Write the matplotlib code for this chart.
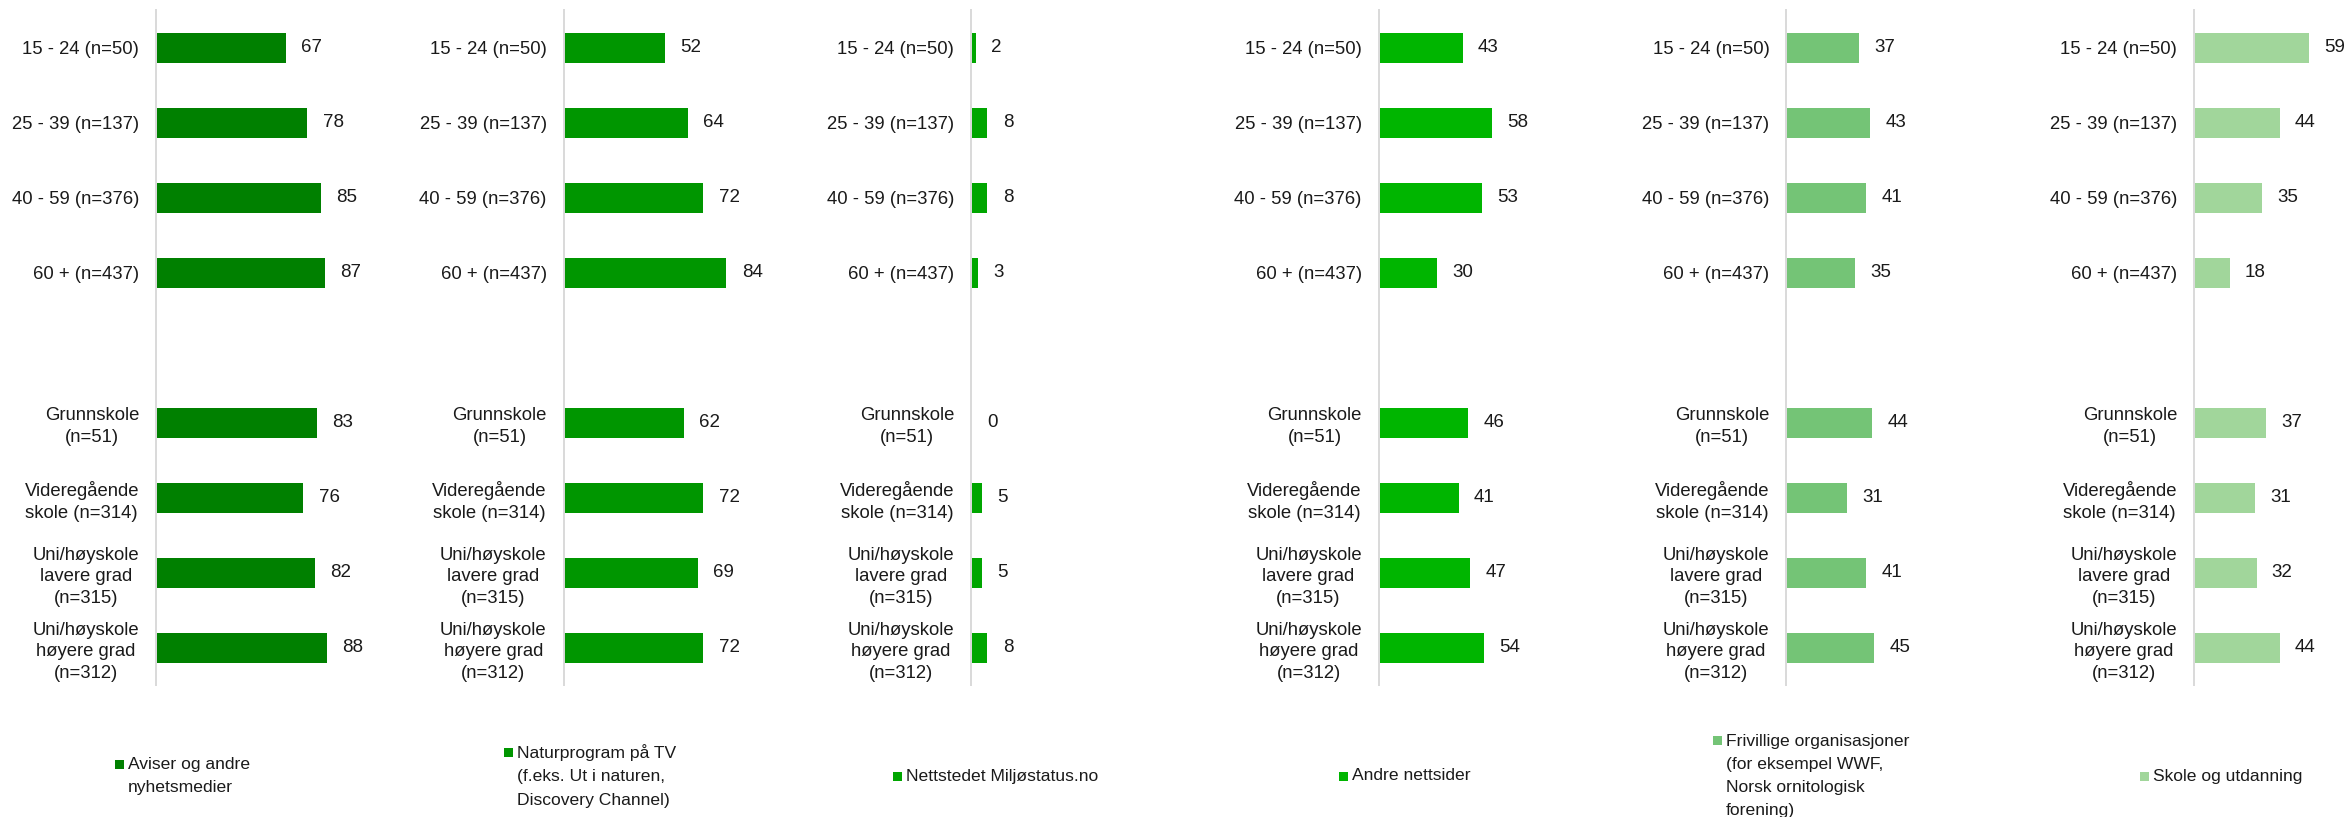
import matplotlib
matplotlib.use("Agg")
import matplotlib.pyplot as plt
from matplotlib.patches import Rectangle

plt.rcParams["font.family"] = ["Liberation Sans", "DejaVu Sans"]

# Respondent groups (blank slot separates age groups from education levels)
categories = [
    "15 - 24 (n=50)",
    "25 - 39 (n=137)",
    "40 - 59 (n=376)",
    "60 + (n=437)",
    "",
    "Grunnskole\n(n=51)",
    "Videregående\nskole (n=314)",
    "Uni/høyskole\nlavere grad\n(n=315)",
    "Uni/høyskole\nhøyere grad\n(n=312)",
]

sources = [
    "Aviser og andre\nnyhetsmedier",
    "Naturprogram på TV\n(f.eks. Ut i naturen,\nDiscovery Channel)",
    "Nettstedet Miljøstatus.no",
    "Andre nettsider",
    "Frivillige organisasjoner\n(for eksempel WWF,\nNorsk ornitologisk\nforening)",
    "Skole og utdanning",
]

# Percent per group (in category order, blank slot skipped)
aviser = [67, 78, 85, 87, 83, 76, 82, 88]
naturprogram = [52, 64, 72, 84, 62, 72, 69, 72]
miljostatus = [2, 8, 8, 3, 0, 5, 5, 8]
andre_nettsider = [43, 58, 53, 30, 46, 41, 47, 54]
frivillige = [37, 43, 41, 35, 44, 31, 41, 45]
skole = [59, 44, 35, 18, 37, 31, 32, 44]

series = [aviser, naturprogram, miljostatus, andre_nettsider, frivillige, skole]
colors = ["#008000", "#009600", "#00A600", "#00B500", "#74C476", "#A1D69B"]

W, H = 2346, 817
fig = plt.figure(figsize=(W / 100, H / 100), dpi=100)


def fx(px):
    return px / W


def fy(py):
    return 1 - py / H


used = [k for k, c in enumerate(categories) if c]
text_color = "#1a1a1a"

for i, (vals, color) in enumerate(zip(series, colors)):
    left = 156 + 407.6 * i
    ax = fig.add_axes([fx(left), fy(685), 193 / W, 675 / H])
    ax.patch.set_visible(False)
    bars = ax.barh(used, vals, height=0.4, color=color, left=0.4)
    ax.set_xlim(0, 100)
    ax.set_ylim(8.5, -0.5)
    ax.set_yticks(range(len(categories)))
    ax.set_yticklabels(categories, fontsize=13.3, color=text_color)
    for t in ax.get_yticklabels():
        t.set_multialignment("center")
        t.set_linespacing(1.34)
    ax.tick_params(axis="y", length=0, pad=12.2)
    ax.set_xticks([])
    for s in ("top", "right", "bottom"):
        ax.spines[s].set_visible(False)
    ax.spines["left"].set_color("#D9D9D9")
    ax.spines["left"].set_linewidth(1.4)
    ax.bar_label(bars, labels=[str(v) for v in vals], padding=11,
                 fontsize=13.5, color=text_color)

# Legend row along the bottom
legend_marker_x = [115, 504, 893, 1339, 1713, 2140]
line_px = 23.5
center_y = 776
sq = 9
for label, color, mx in zip(sources, colors, legend_marker_x):
    n = label.count("\n") + 1
    first_line_y = center_y - (n - 1) * line_px / 2
    fig.patches.append(Rectangle((fx(mx), fy(first_line_y + sq / 2)),
                                 sq / W, sq / H, transform=fig.transFigure,
                                 facecolor=color, edgecolor="none"))
    fig.text(fx(mx + 13), fy(center_y), label, ha="left", va="center",
             fontsize=12.6, linespacing=1.68, color=text_color)

fig.savefig("out.png", dpi=100, facecolor="white")
